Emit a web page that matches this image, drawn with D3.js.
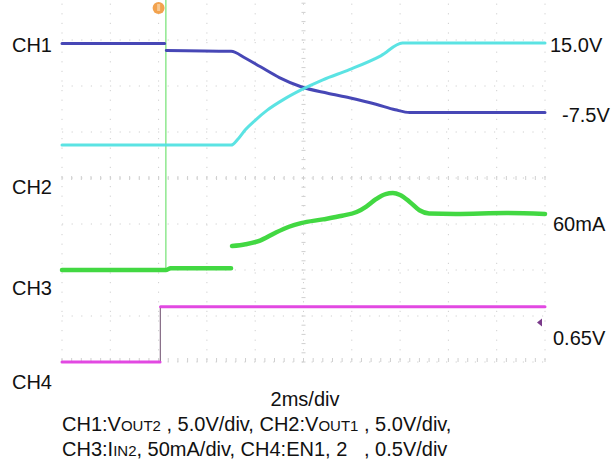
<!DOCTYPE html>
<html>
<head>
<meta charset="utf-8">
<script src="https://cdn.jsdelivr.net/npm/d3@7"></script>
<style>
  html, body { margin: 0; padding: 0; background: #fff; }
  svg text { font-family: "Liberation Sans", Arial, sans-serif; font-size: 20px; fill: #111; }
  .grid line { stroke: #cfcfcf; stroke-width: 1; stroke-dasharray: 1.2 8.4; }
  .trace { fill: none; stroke-linejoin: round; stroke-linecap: round; }
</style>
</head>
<body>
<div id="scope"></div>
<script>
// time base: 2 ms/div, 10 divisions
const timeTicks = [0, 2, 4, 6, 8, 10, 12, 14, 16, 18, 20];
const divTicks = [-4, -3, -2, -1, 0, 1, 2, 3, 4];

// CH1: VOUT2 in volts [ms, V]
const ch1Points = [
    [0, 0], [4.25, 0], [4.3, null], [4.32, -0.75], [7.0, -0.85], [7.6, -1.6], [8.2, -2.5],
    [9.0, -3.7], [9.9, -4.7], [11.0, -5.4], [11.9, -5.9], [13.0, -6.6], [13.8, -7.2],
    [14.4, -7.5], [20, -7.5]
];
// CH2: VOUT1 in volts
const ch2Points = [
    [0, 3.9], [7.0, 3.9], [7.3, 4.6], [7.6, 5.6], [8.0, 6.6], [8.5, 7.7], [9.2, 8.9],
    [9.9, 9.9], [10.8, 11.0], [11.9, 12.1], [13.2, 13.6], [14.1, 15.0], [20, 15.0]
];
// CH3: IIN2 in mA
const ch3Points = [
    [0, -1], [4.3, -1], [4.5, 1], [7.0, 1], [7.02, null], [7.04, 25], [7.6, 27], [8.2, 31],
    [8.8, 39], [9.4, 46], [9.9, 50], [10.8, 54], [11.6, 58], [12.2, 62], [12.6, 68],
    [13.0, 76], [13.4, 81.5], [13.7, 82.6], [14.0, 80.5], [14.4, 73], [14.8, 64],
    [15.2, 60.5], [16.3, 60], [18.4, 61], [20, 60]
];
// CH4: EN1 in volts
const ch4Points = [
    [0, 0], [4.06, 0], [4.07, null], [4.08, 0.6], [20, 0.6]
];
// CH3 inrush spike (clipped at top of screen)
const spikePoints = [[4.3, 0], [4.3, 400]];
const ch4Edge = [[4.07, 0], [4.07, 0.6]];

// channel settings: units per division and ground position (div from centre)
const channelNames = ["CH1", "CH2", "CH3", "CH4"];
const unitsPerDiv = [5, 5, 50, 0.5];
const groundDiv = [2.924, -0.065, -1.98, -4];
const traceColors = ["#3d3db2", "#52e2e2", "#38d638", "#e03fe0"];
const traceWidths = [3, 3, 4.5, 3];

const rightLabels = ["15.0V", "-7.5V", "60mA", "0.65V"];
const triggerTime = 4.0;
const ch4TriggerLevel = 0.43;

class ScopeChart {
    constructor(_config) {
        this.config = {
            parentElement: _config.parentElement,
            containerWidth: 615,
            containerHeight: 466,
            margin: {top: -6, left: 62},
            plotWidth: 483,
            plotHeight: 368
        };
        this.initVis();
    }

    initVis() {
        let vis = this;

        vis.svg = d3.select(vis.config.parentElement).append('svg')
            .attr('width', vis.config.containerWidth)
            .attr('height', vis.config.containerHeight);

        vis.chart = vis.svg.append('g')
            .attr('transform', `translate(${vis.config.margin.left},${vis.config.margin.top})`);

        vis.xScale = d3.scaleLinear().domain([0, 20]).range([0, vis.config.plotWidth]);
        vis.divScale = d3.scaleLinear().domain([-4, 4]).range([vis.config.plotHeight, 0]);

        // one y scale per channel, built from volts/div and ground offset
        vis.yScales = unitsPerDiv.map((u, i) => v => vis.divScale(groundDiv[i] + v / u));

        vis.renderVis();
    }

    renderVis() {
        let vis = this;
        const W = vis.config.plotWidth, H = vis.config.plotHeight;

        // graticule
        const grid = vis.chart.append('g').attr('class', 'grid');
        grid.selectAll('.vline')
            .data(timeTicks)
            .join('line')
            .attr('class', 'vline')
            .attr('x1', d => vis.xScale(d)).attr('x2', d => vis.xScale(d))
            .attr('y1', 0).attr('y2', H);
        grid.selectAll('.hline')
            .data(divTicks)
            .join('line')
            .attr('class', 'hline')
            .attr('x1', 0).attr('x2', W)
            .attr('y1', d => vis.divScale(d)).attr('y2', d => vis.divScale(d));

        // minor ticks on the centre axes and bottom edge
        const minor = d3.range(0, 20.01, 0.4);
        grid.selectAll('.mx')
            .data(minor)
            .join('line')
            .attr('class', 'mx')
            .style('stroke-dasharray', 'none')
            .attr('x1', d => vis.xScale(d)).attr('x2', d => vis.xScale(d))
            .attr('y1', vis.divScale(0) - 2).attr('y2', vis.divScale(0) + 2);
        grid.selectAll('.mb')
            .data(minor)
            .join('line')
            .attr('class', 'mb')
            .style('stroke-dasharray', 'none')
            .attr('x1', d => vis.xScale(d)).attr('x2', d => vis.xScale(d))
            .attr('y1', H - 4).attr('y2', H);
        const minorY = d3.range(-4, 4.01, 0.2);
        grid.selectAll('.my')
            .data(minorY)
            .join('line')
            .attr('class', 'my')
            .style('stroke-dasharray', 'none')
            .attr('x1', vis.xScale(10) - 2).attr('x2', vis.xScale(10) + 2)
            .attr('y1', d => vis.divScale(d)).attr('y2', d => vis.divScale(d));

        // CH3 spike
        vis.chart.append('path')
            .attr('class', 'trace')
            .attr('d', d3.line().x(d => vis.xScale(d[0])).y(d => Math.max(0, vis.yScales[2](d[1])))(spikePoints))
            .attr('stroke', '#8fe88f')
            .attr('stroke-width', 1.5);

        // CH4 edge
        vis.chart.append('path')
            .attr('class', 'trace')
            .attr('d', d3.line().x(d => vis.xScale(d[0])).y(d => vis.yScales[3](d[1]))(ch4Edge))
            .attr('stroke', '#6a4a6a')
            .attr('stroke-width', 1);

        const series = [ch1Points, ch2Points, ch3Points, ch4Points];
        const order = [3, 2, 0, 1];
        order.forEach(i => {
            const line = d3.line()
                .defined(d => d[1] !== null)
                .x(d => vis.xScale(d[0]))
                .y(d => vis.yScales[i](d[1]))
                .curve(d3.curveMonotoneX);
            vis.chart.append('path')
                .attr('class', 'trace')
                .attr('d', line(series[i]))
                .attr('stroke', traceColors[i])
                .attr('stroke-width', traceWidths[i])
                .attr('stroke-opacity', 0.95);
        });

        // trigger position marker
        vis.svg.append('circle')
            .attr('cx', vis.config.margin.left + vis.xScale(triggerTime))
            .attr('cy', 8)
            .attr('r', 6)
            .attr('fill', '#f2a24e');
        vis.svg.append('rect')
            .attr('x', vis.config.margin.left + vis.xScale(triggerTime) - 1.5)
            .attr('y', 4).attr('width', 3).attr('height', 7)
            .attr('fill', '#f8c890');

        // CH4 trigger level marker
        const ty = vis.config.margin.top + vis.yScales[3](ch4TriggerLevel);
        const tx = vis.config.margin.left + W - 5;
        vis.svg.append('path')
            .attr('d', `M${tx - 3},${ty} L${tx + 2},${ty - 4} L${tx + 2},${ty + 4} Z`)
            .attr('fill', '#7a3a8a');

        // left channel labels
        const leftY = [52, 194, 295, 389];
        vis.svg.selectAll('.ch-label')
            .data(channelNames)
            .join('text')
            .attr('class', 'ch-label')
            .attr('x', 52)
            .attr('y', (d, i) => leftY[i])
            .attr('text-anchor', 'end')
            .text(d => d);

        // right level labels
        const rightX = [550, 562, 553, 553];
        const rightY = [52, 122, 231, 345];
        vis.svg.selectAll('.lvl-label')
            .data(rightLabels)
            .join('text')
            .attr('class', 'lvl-label')
            .attr('x', (d, i) => rightX[i])
            .attr('y', (d, i) => rightY[i])
            .text(d => d);

        // captions
        vis.svg.append('text')
            .attr('x', 305).attr('y', 406)
            .attr('text-anchor', 'middle')
            .text('2ms/div');

        const small = 15;
        const l1 = vis.svg.append('text').attr('x', 62).attr('y', 431).attr('xml:space', 'preserve');
        l1.append('tspan').text('CH1:V');
        l1.append('tspan').style('font-size', small + 'px').text('OUT2');
        l1.append('tspan').text(' , 5.0V/div, CH2:V');
        l1.append('tspan').style('font-size', small + 'px').text('OUT1');
        l1.append('tspan').text(' , 5.0V/div,');

        const l2 = vis.svg.append('text').attr('x', 62).attr('y', 456).attr('xml:space', 'preserve');
        l2.append('tspan').text('CH3:I');
        l2.append('tspan').style('font-size', small + 'px').text('IN2');
        l2.append('tspan').text(', 50mA/div, CH4:EN1, 2   , 0.5V/div');
    }
}

new ScopeChart({parentElement: '#scope'});
</script>
</body>
</html>
